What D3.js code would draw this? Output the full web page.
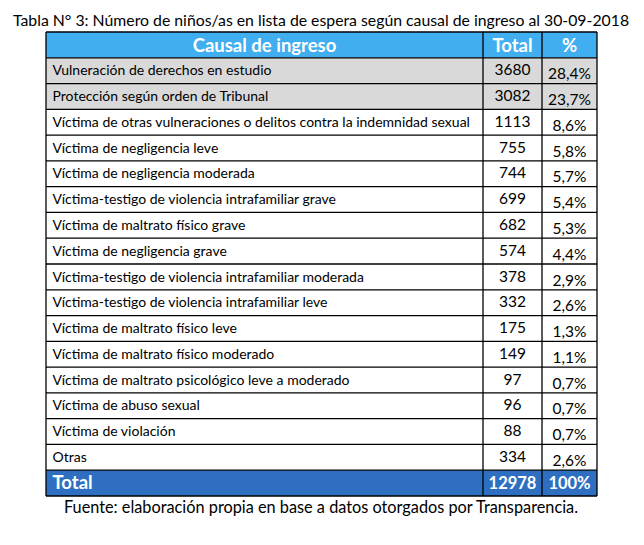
<!DOCTYPE html>
<html>
<head>
<meta charset="utf-8">
<script src="https://cdn.jsdelivr.net/npm/d3@7"></script>
<style>
  body { margin: 0; background: #fff; }
  text { font-family: Lato, "Open Sans", sans-serif; }
</style>
</head>
<body>
<div id="tabla"></div>
<script>
// datos de la tabla
var titulo = "Tabla N° 3: Número de niños/as en lista de espera según causal de ingreso al 30-09-2018";
var fuente = "Fuente: elaboración propia en base a datos otorgados por Transparencia.";
var encabezados = ["Causal de ingreso", "Total", "%"];
var causales = [
  "Vulneración de derechos en estudio",
  "Protección según orden de Tribunal",
  "Víctima de otras vulneraciones o delitos contra la indemnidad sexual",
  "Víctima de negligencia leve",
  "Víctima de negligencia moderada",
  "Víctima-testigo de violencia intrafamiliar grave",
  "Víctima de maltrato físico grave",
  "Víctima de negligencia grave",
  "Víctima-testigo de violencia intrafamiliar moderada",
  "Víctima-testigo de violencia intrafamiliar leve",
  "Víctima de maltrato físico leve",
  "Víctima de maltrato físico moderado",
  "Víctima de maltrato psicológico leve a moderado",
  "Víctima de abuso sexual",
  "Víctima de violación",
  "Otras"
];
var totales = [3680, 3082, 1113, 755, 744, 699, 682, 574, 378, 332, 175, 149, 97, 96, 88, 334];
var porcentajes = ["28,4%", "23,7%", "8,6%", "5,8%", "5,7%", "5,4%", "5,3%", "4,4%", "2,9%", "2,6%", "1,3%", "1,1%", "0,7%", "0,7%", "0,7%", "2,6%"];
var filaTotal = ["Total", "12978", "100%"];
var destacadas = 2; // primeras filas en gris

var width = 644, height = 545;
var x0 = 46, x1 = 483, x2 = 542, x3 = 597;
var yTop = 32, yBottom = 496;

var svg = d3.select("#tabla").append("svg")
    .attr("width", width)
    .attr("height", height);

var filas = ["header"].concat(causales, ["total"]);
var y = d3.scaleBand()
    .domain(d3.range(filas.length))
    .range([yTop, yBottom]);

var cols = [
  {x: x0, w: x1 - x0},
  {x: x1, w: x2 - x1},
  {x: x2, w: x3 - x2}
];

// titulo
svg.append("text")
    .attr("x", 321)
    .attr("y", 26)
    .attr("text-anchor", "middle")
    .attr("font-size", 15.8)
    .attr("fill", "#000")
    .text(titulo);

// fondos
svg.append("rect")
    .attr("x", x0).attr("y", y(0))
    .attr("width", x3 - x0).attr("height", y.bandwidth())
    .attr("fill", "#41aef0");

svg.selectAll("rect.gris")
  .data(d3.range(destacadas))
  .enter().append("rect")
    .attr("class", "gris")
    .attr("x", x0).attr("y", function(d) { return y(d + 1); })
    .attr("width", x3 - x0).attr("height", y.bandwidth())
    .attr("fill", "#d9d9d9");

svg.append("rect")
    .attr("x", x0).attr("y", y(filas.length - 1))
    .attr("width", x3 - x0).attr("height", y.bandwidth())
    .attr("fill", "#2e6fc1");

// encabezado
svg.selectAll("text.enc")
  .data(encabezados)
  .enter().append("text")
    .attr("class", "enc")
    .attr("x", function(d, i) { return cols[i].x + cols[i].w / 2; })
    .attr("y", y(0) + 19.5)
    .attr("text-anchor", "middle")
    .attr("font-size", 18.5)
    .attr("font-weight", "bold")
    .attr("fill", "#fff")
    .text(function(d) { return d; });

// filas de datos
var g = svg.selectAll("g.fila")
  .data(causales)
  .enter().append("g")
    .attr("class", "fila")
    .attr("transform", function(d, i) { return "translate(0," + y(i + 1) + ")"; });

g.append("text")
    .attr("x", x0 + 6.5)
    .attr("y", 17.5)
    .attr("font-size", 14)
    .attr("fill", "#000")
    .text(function(d) { return d; });

g.append("text")
    .attr("x", x1 + (x2 - x1) / 2)
    .attr("y", 17.5)
    .attr("text-anchor", "middle")
    .attr("font-size", 15.5)
    .attr("fill", "#000")
    .text(function(d, i) { return totales[i]; });

g.append("text")
    .attr("x", x2 + (x3 - x2) / 2)
    .attr("y", 21.5)
    .attr("text-anchor", "middle")
    .attr("font-size", 15.5)
    .attr("fill", "#000")
    .text(function(d, i) { return porcentajes[i]; });

// fila total
svg.selectAll("text.tot")
  .data(filaTotal)
  .enter().append("text")
    .attr("class", "tot")
    .attr("x", function(d, i) { return i == 0 ? x0 + 6.5 : cols[i].x + cols[i].w / 2; })
    .attr("y", y(filas.length - 1) + 18.5)
    .attr("text-anchor", function(d, i) { return i == 0 ? "start" : "middle"; })
    .attr("font-size", function(d, i) { return i == 0 ? 18.5 : 16.5; })
    .attr("font-weight", "bold")
    .attr("fill", "#fff")
    .text(function(d) { return d; });

// lineas
svg.selectAll("line.h")
  .data(d3.range(filas.length + 1))
  .enter().append("line")
    .attr("class", "h")
    .attr("x1", x0).attr("x2", x3)
    .attr("y1", function(d) { return d < filas.length ? y(d) : yBottom; })
    .attr("y2", function(d) { return d < filas.length ? y(d) : yBottom; })
    .attr("stroke", "#000")
    .attr("stroke-width", 1.3);

svg.selectAll("line.v")
  .data([x0, x1, x2, x3])
  .enter().append("line")
    .attr("class", "v")
    .attr("x1", function(d) { return d; }).attr("x2", function(d) { return d; })
    .attr("y1", yTop).attr("y2", yBottom)
    .attr("stroke", "#000")
    .attr("stroke-width", 1.3);

// fuente
svg.append("text")
    .attr("x", 321)
    .attr("y", 512.5)
    .attr("text-anchor", "middle")
    .attr("font-size", 16.3)
    .attr("fill", "#000")
    .text(fuente);
</script>
</body>
</html>
